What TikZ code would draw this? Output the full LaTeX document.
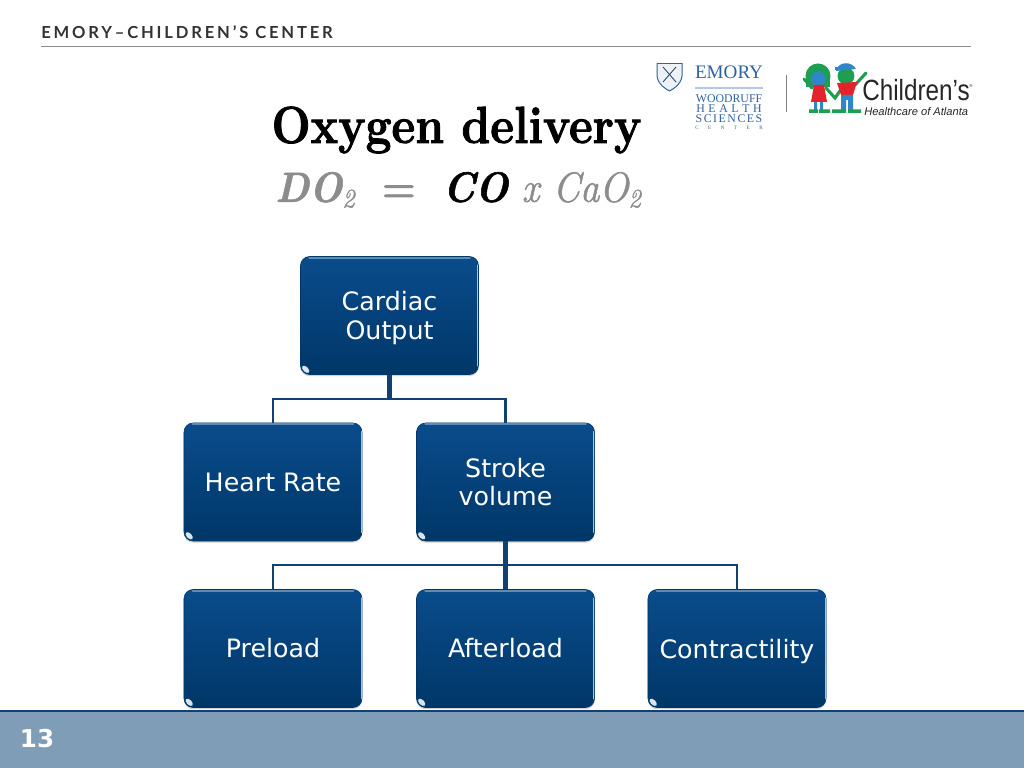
\documentclass[tikz,border=0pt]{standalone}
\usepackage{fontspec}
\usepackage{xcolor}
\usepackage{graphicx}
\usetikzlibrary{shadows}
\newfontfamily\boxfont{DejaVu Sans}
\newfontfamily\headerfont[LetterSpace=17]{Lato}
\newfontfamily\logoserif{Liberation Serif}
\newfontfamily\logosans{Liberation Sans}
\newfontfamily\titlefont[BoldFeatures={FakeBold=1.8}, BoldItalicFeatures={FakeBold=1.4}, ItalicFeatures={FakeBold=1.2}]{Latin Modern Roman}
\newcommand{\formsub}{\raisebox{-4pt}{\fontsize{19}{20}\selectfont 2}}
\definecolor{boxtop}{HTML}{0A4C8C}
\definecolor{boxbottom}{HTML}{003768}
\definecolor{wirecolor}{HTML}{0F4273}
\definecolor{barcolor}{HTML}{7F9DB7}
\definecolor{emoryblue}{HTML}{2F629F}
\definecolor{kidgreen}{HTML}{1E9E50}
\definecolor{kidred}{HTML}{E2232B}
\definecolor{kidblue}{HTML}{2F86C8}
\tikzset{
  wire/.style={draw=wirecolor, line width=2.1pt},
  trunk/.style={draw=wirecolor, line width=3.4pt},
  orgbox/.style={
    rounded corners=6.5pt,
    top color=boxtop,
    bottom color=boxbottom,
    draw=boxbottom,
    line width=0.4pt,
    text=white,
    font=\boxfont\fontsize{18}{20.3}\selectfont,
    minimum width=4.45cm,
    minimum height=2.95cm,
    align=center,
    inner sep=2pt,
    drop shadow={shadow xshift=0pt, shadow yshift=-1.2pt, opacity=0.35}
  },
  toplight/.style={draw=boxtop!65!white, line width=1.2pt, line cap=round},
  sidelight/.style={draw=boxtop!35!white, line width=0.9pt, line cap=round},
  logotext/.style={inner sep=0pt, text=emoryblue}
}

\begin{document}
\begin{tikzpicture}[x=0.025cm, y=-0.025cm]
  \useasboundingbox (0,0) rectangle (1024,768);
  \fill[white] (0,0) rectangle (1024,768);

  % Header line and footer bar
  \node[inner sep=0pt, anchor=west, text=black!80, font=\headerfont\bfseries\fontsize{11.8}{12}\selectfont] (header) at (41,32) {EMORY–CHILDREN’S CENTER};
  \draw[black!45, line width=0.8pt] (41,46.5) -- (971,46.5);
  \fill[barcolor] (0,711) rectangle (1024,768);
  \draw[wirecolor, line width=1.4pt] (0,711) -- (1024,711);
  \node[text=white, font=\boxfont\bfseries\fontsize{17.5}{18}\selectfont, inner sep=0pt] (pagenum) at (37,738.5) {13};

  % Title
  \node[inner sep=0pt, font=\titlefont\bfseries\fontsize{37}{38}\selectfont] (title) at (456.5,130) {\scalebox{0.888}[1]{Oxygen delivery}};
  \node[inner sep=0pt, text=black!45, font=\titlefont\itshape\fontsize{30}{31}\selectfont] (formula) at (458,190)
    {\scalebox{0.92}[1]{\textbf{DO}\formsub\ \ \textbf{\textup{=}}\ \ \textcolor{black}{\textbf{CO}} x CaO\formsub}};

  % Emory logo
  \draw[emoryblue, line width=0.7pt, fill=emoryblue!8] (657,63.5) -- (682,63.5) -- (682,76) .. controls (681,84) and (675,88) .. (669.5,91) .. controls (664,88) and (658,84) .. (657,76) -- cycle;
  \draw[emoryblue!70!black, line width=0.6pt] (663,67) -- (676,82) (676,67) -- (663,82);
  \node[logotext, font=\logoserif\fontsize{13.6}{15}\selectfont] (emory) at (729,72) {EMORY};
  \draw[emoryblue!35, line width=1pt] (695,88) -- (763,88);
  \node[logotext, font=\logoserif\fontsize{8.4}{9}\selectfont] (woodruff) at (729,99) {WOODRUFF};
  \node[logotext, font=\logoserif\fontsize{8.4}{9}\selectfont] (health) at (729,109) {H\hspace{2.6pt}E\hspace{2.6pt}A\hspace{2.6pt}L\hspace{2.6pt}T\hspace{2.6pt}H};
  \node[logotext, font=\logoserif\fontsize{8.4}{9}\selectfont] (sciences) at (729,119) {S\hspace{1.1pt}C\hspace{1.1pt}I\hspace{1.1pt}E\hspace{1.1pt}N\hspace{1.1pt}C\hspace{1.1pt}E\hspace{1.1pt}S};
  \node[logotext, font=\logoserif\fontsize{3.6}{4}\selectfont] (center) at (729,127.5) {C\hspace{6.8pt}E\hspace{6.8pt}N\hspace{6.8pt}T\hspace{6.8pt}E\hspace{6.8pt}R};
  \draw[black!50, line width=0.7pt] (786,75) -- (786,112);

  % Children's logo, two kids
  \draw[kidgreen, line width=2.2pt, line cap=round] (804,79) -- (812,88);
  \draw[kidgreen, line width=2.2pt, line cap=round] (826,88) -- (835,98) -- (842,88);
  \draw[kidgreen, line width=2.2pt, line cap=round] (855,85) -- (866,73);
  \fill[kidgreen] (818,76) circle [radius=8.9pt];
  \fill[kidgreen] (806,76) rectangle (830,87);
  \fill[kidblue] (818,79) circle [radius=5.3pt];
  \fill[kidred] (814,85) -- (824,85) -- (827,102) -- (811,102) -- cycle;
  \fill[kidblue] (814,102) rectangle (817,110) (820,102) rectangle (823,110);
  \fill[kidgreen] (809,109.5) rectangle (818,113) (819,109.5) rectangle (830,113);
  \fill[kidgreen] (846,76) circle [radius=6pt];
  \fill[kidblue] (836,71) .. controls (838,61) and (852,61) .. (856,69) -- cycle;
  \fill[kidblue] (835,67) rectangle (846,70.5);
  \fill[kidred] (837,83) -- (857,82) -- (853,95) -- (841,95) -- cycle;
  \fill[kidblue] (841,95) rectangle (853,100) (841,99) rectangle (846,110) (848,99) rectangle (853,110);
  \fill[kidgreen] (832,109.5) rectangle (846,113) (848,109.5) rectangle (861,113);
  \node[inner sep=0pt, anchor=west, text=black!85, font=\logosans\fontsize{20.8}{21}\selectfont] (childrens) at (862,90.5) {\scalebox{0.83}[1]{Children’s}};
  \node[inner sep=0pt, text=black!85, font=\logosans\fontsize{3}{3}\selectfont] (regmark) at (971,86) {\textregistered};
  \node[inner sep=0pt, anchor=west, text=black!85, font=\logosans\itshape\fontsize{7.9}{8}\selectfont] (healthcare) at (864,111.5) {Healthcare of Atlanta};

  % Boxes, top to bottom
  \node[orgbox, text depth=0pt] (output) at (389.5,315.5) {Cardiac\\Output};
  \node[orgbox] (rate) at (273,482) {Heart Rate};
  \node[orgbox] (stroke) at (505.5,482) {Stroke\\volume};
  \node[orgbox] (preload) at (273,648.5) {Preload};
  \node[orgbox] (afterload) at (505.5,648.5) {Afterload};
  \node[orgbox, text depth=0pt] (contract) at (737,648.5) {Contractility};

  % Gloss on every box
  \foreach \boxname in {output,rate,stroke,preload,afterload,contract} {
    \draw[toplight] ([shift={(9,1.6)}]\boxname.north west) -- ([shift={(-9,1.6)}]\boxname.north east);
    \draw[sidelight] ([shift={(-1,9)}]\boxname.north east) -- ([shift={(-1,-9)}]\boxname.south east);
    \coordinate (glossspot) at ([shift={(5.5,-5.5)}]\boxname.south west);
    \fill[white!85!boxtop] (glossspot) ellipse [x radius=3.2pt, y radius=1.8pt, rotate=-45];
  }

  % Connectors
  \coordinate (ratefork) at (389.5,399);
  \coordinate (strokefork) at (505.5,565);
  \draw[trunk] (output.south) -- (ratefork);
  \draw[wire] (rate.north) |- (ratefork) -| (stroke.north);
  \draw[trunk] (stroke.south) -- (afterload.north);
  \draw[wire] (preload.north) |- (strokefork) -| (contract.north);
\end{tikzpicture}
\end{document}
